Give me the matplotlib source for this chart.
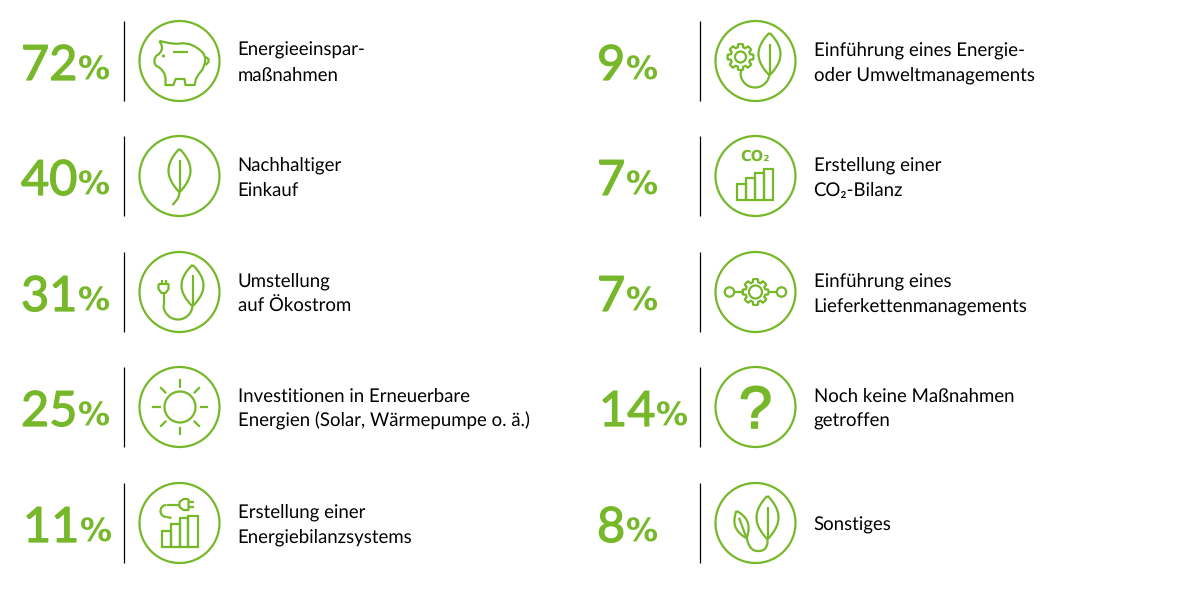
import numpy as np
import matplotlib
matplotlib.use("Agg")
import matplotlib.pyplot as plt
import matplotlib.patheffects as pe
from matplotlib.patches import Circle, Rectangle

# Werte und Beschriftungen, linke und rechte Spalte
werte_links = [72, 40, 31, 25, 11]
werte_rechts = [9, 7, 7, 14, 8]
texte_links = [
    ["Energieeinspar-", "maßnahmen"],
    ["Nachhaltiger", "Einkauf"],
    ["Umstellung", "auf Ökostrom"],
    ["Investitionen in Erneuerbare", "Energien (Solar, Wärmepumpe o. ä.)"],
    ["Erstellung einer", "Energiebilanzsystems"],
]
texte_rechts = [
    ["Einführung eines Energie-", "oder Umweltmanagements"],
    ["Erstellung einer", "CO₂-Bilanz"],
    ["Einführung eines", "Lieferkettenmanagements"],
    ["Noch keine Maßnahmen", "getroffen"],
    ["Sonstiges"],
]
icons_links = ["schwein", "blatt", "stecker_blatt", "sonne", "stecker_balken"]
icons_rechts = ["zahnrad_blatt", "co2", "zahnrad_kette", "frage", "zwei_blaetter"]

GRUEN = "#76b82a"
SCHRIFT = ["Lato", "DejaVu Sans"]
LW = 1.6
zeilen_y = [61, 176, 292, 407, 523]

plt.rcParams["text.hinting"] = "no_hinting"

fig = plt.figure(figsize=(12, 5.9), dpi=100)
ax = fig.add_axes([0, 0, 1, 1])
ax.set_xlim(0, 1200)
ax.set_ylim(590, 0)
ax.axis("off")


def linie(cx, cy, punkte, rund=0, zu=False):
    # Polylinie relativ zur Kreismitte, rund = Anzahl Glaettungen (Chaikin)
    p = np.array(punkte, dtype=float)
    if zu:
        p = np.vstack([p, p[0]])
    for _ in range(rund):
        q = 0.75 * p[:-1] + 0.25 * p[1:]
        r = 0.25 * p[:-1] + 0.75 * p[1:]
        neu = np.empty((2 * len(q), 2))
        neu[0::2] = q
        neu[1::2] = r
        if zu:
            p = np.vstack([neu, neu[0]])
        else:
            p = np.vstack([p[0], neu, p[-1]])
    ax.plot(p[:, 0] + cx, p[:, 1] + cy, color=GRUEN, lw=LW, solid_capstyle="butt",
            solid_joinstyle="round")


def bogen(mx, my, radius, von, bis):
    # Kreisbogen als Punktliste, Winkel in Grad
    w = np.radians(np.linspace(von, bis, 30))
    return np.c_[mx + radius * np.cos(w), my + radius * np.sin(w)]


def blatt(cx, cy, spitze, basis, breite, stiel=0.25):
    s = np.array(spitze, dtype=float)
    b = np.array(basis, dtype=float)
    achse = b - s
    normal = np.array([-achse[1], achse[0]]) / np.hypot(*achse)
    t = np.linspace(0, 1, 40)
    w = breite * np.sin(np.pi * t) ** 0.85
    kante1 = s + np.outer(t, achse) + np.outer(w, normal)
    kante2 = s + np.outer(t, achse) - np.outer(w, normal)
    linie(cx, cy, np.vstack([kante1, kante2[::-1]]))
    linie(cx, cy, [s + stiel * achse, b])


def zahnrad(cx, cy, mx, my, aussen, innen, loch):
    winkel = np.linspace(0, 2 * np.pi, 97)
    radius = innen + (aussen - innen) * (np.cos(8 * winkel) > -0.1)
    punkte = np.c_[mx + radius * np.sin(winkel), my - radius * np.cos(winkel)]
    linie(cx, cy, punkte, rund=1)
    ax.add_patch(Circle((cx + mx, cy + my), loch, fill=False, ec=GRUEN, lw=LW))


def balken(cx, cy, kanten, hoehen, unten=24):
    for i, oben in enumerate(hoehen):
        ax.add_patch(Rectangle((cx + kanten[i], cy + oben), kanten[i + 1] - kanten[i],
                               unten - oben, fill=False, ec=GRUEN, lw=LW))


def schwein(cx, cy):
    # doppelte Punkte halten die Ecken beim Glaetten scharf
    linie(cx, cy, [(-20, -20), (-20, -20), (-17, -14), (-19, -8), (-25, -4), (-25, 4), (-19, 7),
                   (-14, 14), (-14, 24), (-14, 24), (-6, 24), (-6, 24), (-4, 18), (-4, 18),
                   (5, 18), (5, 18), (6, 24), (6, 24), (15, 24), (15, 24),
                   (17, 16), (25, 6), (26, -6), (17, -14), (7, -18), (-6, -17)],
          rund=1, zu=True)
    linie(cx, cy, [(-7, -9), (8, -9)])
    linie(cx, cy, [(26, -4), (29, -2), (29, 1), (26, 4)])
    ax.add_patch(Circle((cx - 16, cy - 5), 1.6, color=GRUEN, lw=0))


def stecker_blatt(cx, cy):
    blatt(cx, cy, (13, -27), (13, 14), 11)
    linie(cx, cy, bogen(-1.5, 13, 14.5, 0, 180))
    linie(cx, cy, [(-16, 13), (-16, 1)])
    linie(cx, cy, [(-21, -8), (-11, -8), (-11, -3), (-14, 1), (-18, 1), (-21, -3)], zu=True)
    linie(cx, cy, [(-18, -12), (-18, -8)])
    linie(cx, cy, [(-14, -12), (-14, -8)])


def sonne(cx, cy):
    ax.add_patch(Circle((cx + 0.5, cy), 15.5, fill=False, ec=GRUEN, lw=LW))
    for w in np.arange(0, 360, 45):
        richtung = np.array([np.cos(np.radians(w)), np.sin(np.radians(w))])
        linie(cx + 0.5, cy, [19.5 * richtung, 28 * richtung])


def stecker_balken(cx, cy):
    balken(cx, cy, [-18, -9, 0, 8, 18], [8, 1, -5, -7])
    linie(cx, cy, [(0, -18), (-13, -18)])
    linie(cx, cy, bogen(-13, -12, 6, 270, 90))
    linie(cx, cy, [(-13, -6), (-8, -5)])
    linie(cx, cy, [(9, -24), (4, -24), (0, -21), (0, -16), (4, -13), (9, -13)], zu=True)
    linie(cx, cy, [(9, -21), (14, -21)])
    linie(cx, cy, [(9, -16), (14, -16)])


def zahnrad_blatt(cx, cy):
    blatt(cx, cy, (14, -28), (14, 14), 11)
    linie(cx, cy, bogen(-0.5, 12, 14.5, 8, 180))
    linie(cx, cy, [(-15, 12), (-15, 9)])
    zahnrad(cx, cy, -15, -4, 13, 10, 5.5)


def co2(cx, cy):
    balken(cx, cy, [-19, -10, -1, 8, 17], [8, 2, -3, -7])
    ax.text(cx, cy - 19, "CO₂", color=GRUEN, fontsize=10.5, fontweight="bold",
            family=["DejaVu Sans"], ha="center", va="center")


def zahnrad_kette(cx, cy):
    zahnrad(cx, cy, 0, 0, 13, 10, 6.5)
    for seite in (-1, 1):
        ax.add_patch(Circle((cx + seite * 26, cy), 4.7, fill=False, ec=GRUEN, lw=LW))
        linie(cx, cy, [(seite * 21, 0), (seite * 12, 0)])


def frage(cx, cy):
    ax.text(cx, cy + 21, "?", color=GRUEN, fontsize=43, family=["Liberation Sans"],
            ha="center", va="baseline",
            path_effects=[pe.withStroke(linewidth=1.2, foreground=GRUEN)])


def zwei_blaetter(cx, cy):
    blatt(cx, cy, (12, -27), (12, 16), 11)
    linie(cx, cy, [(12, 16), (12, 22), (8, 28), (-2, 28), (-7, 22), (-9, 14)], rund=2)
    blatt(cx, cy, (-19, -12), (-9, 15), 6.5)


def blatt_einzeln(cx, cy):
    blatt(cx, cy, (0, -27), (0, 16), 11)
    linie(cx, cy, [(0, 16), (-1, 22), (-7, 29)], rund=2)


zeichner = {
    "schwein": schwein,
    "blatt": blatt_einzeln,
    "stecker_blatt": stecker_blatt,
    "sonne": sonne,
    "stecker_balken": stecker_balken,
    "zahnrad_blatt": zahnrad_blatt,
    "co2": co2,
    "zahnrad_kette": zahnrad_kette,
    "frage": frage,
    "zwei_blaetter": zwei_blaetter,
}


def spalte(x0, werte, texte, icons):
    renderer = fig.canvas.get_renderer()
    for y, wert, zeilen, icon in zip(zeilen_y, werte, texte, icons):
        # Zahlen mit einer 1 vorne stehen im Original etwas weiter rechts
        start = x0 - 1 + (2 if str(wert).startswith("1") else 0)
        zahl = ax.text(start, y + 19, str(wert), color=GRUEN, fontsize=35, family=SCHRIFT,
                       ha="left", va="baseline",
                       path_effects=[pe.withStroke(linewidth=0.9, foreground=GRUEN)])
        rechts = zahl.get_window_extent(renderer).x1
        ax.text(rechts + 1, y + 19, "%", color=GRUEN, fontsize=23, family=["DejaVu Sans"],
                fontweight="bold", ha="left", va="baseline")
        ax.plot([x0 + 102, x0 + 102], [y - 40, y + 40], color="black", lw=0.9,
                solid_capstyle="butt")
        cx = x0 + 157.5
        ax.add_patch(Circle((cx, y), 40, fill=False, ec=GRUEN, lw=LW))
        zeichner[icon](cx, y)
        if len(zeilen) == 1:
            ax.text(x0 + 215.5, y + 8, zeilen[0], fontsize=13.4, color="black", family=SCHRIFT,
                    ha="left", va="baseline")
        else:
            for i, zeile in enumerate(zeilen):
                ax.text(x0 + 215.5, y - 5.5 + 25.5 * i, zeile, fontsize=13.4, color="black",
                        family=SCHRIFT, ha="left", va="baseline")


spalte(22, werte_links, texte_links, icons_links)
spalte(598, werte_rechts, texte_rechts, icons_rechts)

fig.savefig("out.png", dpi=100, facecolor="white")
